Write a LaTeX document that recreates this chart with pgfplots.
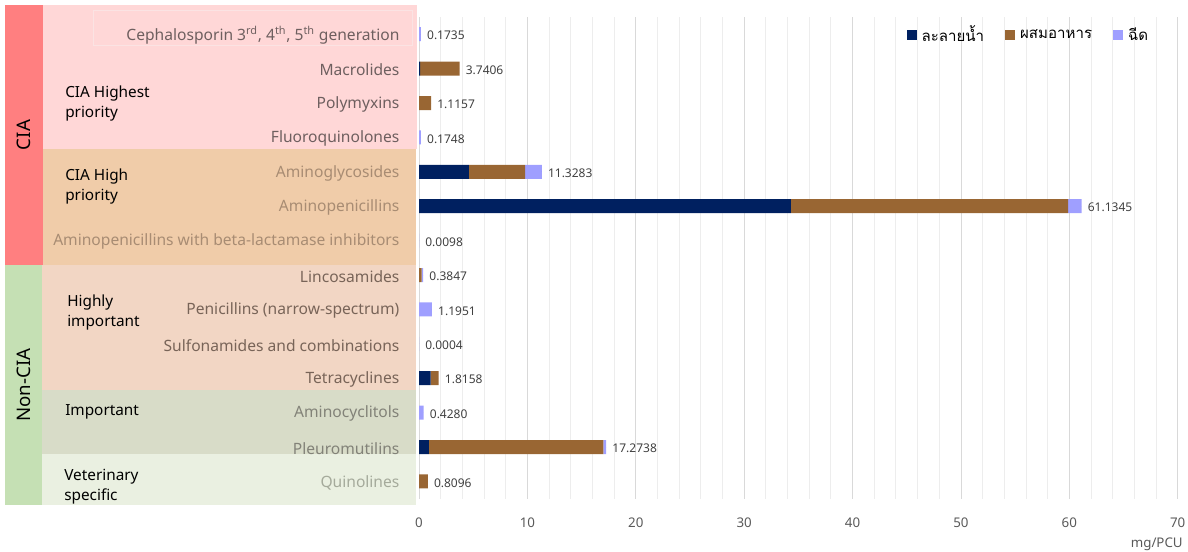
\documentclass[border=0pt]{standalone}
\usepackage{pgfplots}
\pgfplotsset{compat=1.18}
\usepackage{pgfplotstable}
\usepackage{fontspec}
\setmainfont{Noto Sans}
\newfontfamily\thaifont[Script=Thai]{Loma}

\definecolor{water}{HTML}{002060}
\definecolor{feed}{HTML}{996633}
\definecolor{inj}{HTML}{9F9FFF}
\definecolor{ciacol}{HTML}{FF7F80}
\definecolor{noncol}{HTML}{C5E0B4}
\definecolor{hiprio}{HTML}{FFD7D7}
\definecolor{hibox}{HTML}{FBE3E3}
\definecolor{highprio}{HTML}{F0CCA9}
\definecolor{highlyimp}{HTML}{F2D6C4}
\definecolor{important}{HTML}{D8DCC8}
\definecolor{vetspec}{HTML}{EAF0E1}
\definecolor{labA}{HTML}{6E5F5F}
\definecolor{labB}{HTML}{A88C73}
\definecolor{labC}{HTML}{786458}
\definecolor{labD}{HTML}{828278}
\definecolor{labE}{HTML}{A5AA9B}
\definecolor{valtext}{HTML}{404040}
\definecolor{ticktext}{HTML}{595959}

% mg/PCU by route: water = drinking water, feed = in feed, inj = injection
\pgfplotstableread{
idx water feed inj total
0 0 0 0.1735 0.1735
1 0.10 3.6406 0 3.7406
2 0 1.1157 0 1.1157
3 0 0 0.1748 0.1748
4 4.60 5.20 1.5283 11.3283
5 34.30 25.60 1.2345 61.1345
6 0 0 0.0098 0.0098
7 0 0.25 0.1347 0.3847
8 0 0 1.1951 1.1951
9 0 0 0.0004 0.0004
10 1.08 0.7358 0 1.8158
11 0 0 0.4280 0.4280
12 0.90 16.10 0.2738 17.2738
13 0 0.8096 0 0.8096
}\datatable

% shared geometry of the bar axis and the overlay that writes the totals
\pgfplotsset{
  baraxis/.style={
    at={(314.25pt,-373.95pt)}, anchor=south west,
    scale only axis, width=569pt, height=361.2pt,
    xmin=0, xmax=70, ymin=-0.5, ymax=13.5, y dir=reverse,
  }
}

\begin{document}
\begin{tikzpicture}
\begin{scope}[x=0.75pt,y=-0.75pt]
  \useasboundingbox (0,0) rectangle (1188,552);
  % category group backgrounds
  \fill[ciacol] (5,5) rectangle (43,265);
  \fill[noncol] (5,265) rectangle (42,505);
  \fill[hiprio] (43,5) rectangle (417,149);
  \filldraw[fill=hiprio,draw=hibox,line width=0.6pt] (93,10) rectangle (412,45);
  \fill[highprio] (43,149) rectangle (416,265);
  \fill[highlyimp] (42,265) rectangle (416,390);
  \fill[important] (42,390) rectangle (416,454);
  \fill[vetspec] (42,454) rectangle (416,505);
  % group names
  \node[rotate=90,font=\fontsize{14}{16}\selectfont] at (24,135) {CIA};
  \node[rotate=90,font=\fontsize{14}{16}\selectfont] at (24,385) {Non-CIA};
  \begin{scope}[every node/.style={anchor=west,align=left,inner sep=0pt,font=\fontsize{11.5}{15}\selectfont}]
    \node at (65,104) {CIA Highest\\priority};
    \node at (65,187) {CIA High\\priority};
    \node at (67,313) {Highly\\important};
    \node at (65,412) {Important};
    \node at (64,487) {Veterinary\\specific};
  \end{scope}
\end{scope}

\begin{axis}[
  baraxis,
  xbar stacked, bar width=10.5pt,
  xtick={0,10,...,70}, minor x tick num=4,
  xmajorgrids, xminorgrids,
  major grid style={draw=black!15, line width=0.6pt},
  minor grid style={draw=black!7, line width=0.6pt},
  axis line style={draw=none},
  major tick length=0pt, minor tick length=0pt,
  tick style={draw=none},
  /pgf/number format/assume math mode=true,
  xticklabel style={font=\fontsize{10}{12}\selectfont, text=ticktext, inner sep=0pt, yshift=-14.5pt},
  ytick={0,...,13},
  yticklabel style={font=\fontsize{11.7}{13}\selectfont, anchor=east, inner sep=0pt, xshift=-14.5pt, yshift=-1pt},
  yticklabels={
    {\color{labA}Cephalosporin 3\textsuperscript{rd}, 4\textsuperscript{th}, 5\textsuperscript{th} generation},
    {\color{labA}Macrolides},
    {\color{labA}Polymyxins},
    {\color{labA}Fluoroquinolones},
    {\color{labB}Aminoglycosides},
    {\color{labB}Aminopenicillins},
    {\color{labB}Aminopenicillins with beta-lactamase inhibitors},
    {\color{labC}Lincosamides},
    {\color{labC}Penicillins (narrow-spectrum)},
    {\color{labC}Sulfonamides and combinations},
    {\color{labC}Tetracyclines},
    {\color{labD}Aminocyclitols},
    {\color{labD}Pleuromutilins},
    {\color{labE}Quinolines}},
  xlabel={mg/PCU},
  xlabel style={at={(rel axis cs:1,0)}, anchor=north east, inner sep=0pt,
    yshift=-29pt, xshift=4pt, font=\fontsize{10}{12}\selectfont, text=ticktext},
  legend style={at={(rel axis cs:0.637,0.963)}, anchor=west, draw=none, fill=none,
    legend columns=3, font=\thaifont\fontsize{11.3}{13}\selectfont,
    nodes={inner sep=0pt},
    /tikz/every odd column/.append style={column sep=3.75pt},
    /tikz/every even column/.append style={column sep=15.75pt}},
  legend image code/.code={\fill[#1] (0pt,-3.75pt) rectangle (7.5pt,3.75pt);},
]
  \addplot[fill=water, draw=none] table[x=water, y=idx] {\datatable};
  \addlegendentry{ละลายน้ำ}
  \addplot[fill=feed, draw=none] table[x=feed, y=idx] {\datatable};
  \addlegendentry{ผสมอาหาร}
  \addplot[fill=inj, draw=none] table[x=inj, y=idx] {\datatable};
  \addlegendentry{ฉีด}
\end{axis}

% totals written at the end of each stacked bar
\begin{axis}[baraxis, hide axis]
  \addplot[only marks, mark=*, mark size=0pt, mark options={draw=none, fill=none},
    point meta=explicit symbolic,
    nodes near coords={\pgfplotspointmeta},
    nodes near coords style={anchor=west, inner sep=0pt, xshift=4.5pt, yshift=-1pt,
      font=\fontsize{9}{11}\selectfont, text=valtext}]
    table[x=total, y=idx, meta=total] {\datatable};
\end{axis}
\end{tikzpicture}
\end{document}
